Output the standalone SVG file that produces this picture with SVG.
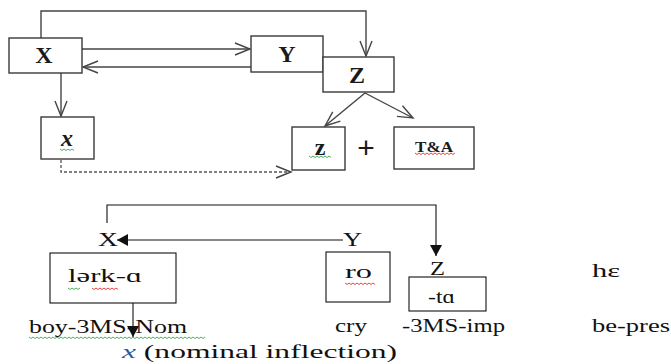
<svg xmlns="http://www.w3.org/2000/svg" width="671" height="364" viewBox="0 0 671 364">
<style>
.box{fill:#fff;stroke:#3a3a3a;stroke-width:1.4}
.bbox{fill:#fff;stroke:#111;stroke-width:1.1}
.ln{fill:none;stroke:#444;stroke-width:1.4}
.bl{fill:none;stroke:#111;stroke-width:1.1}
.dash{fill:none;stroke:#555;stroke-width:1.3;stroke-dasharray:3 2}
.tb{font-family:"Liberation Serif",serif;font-weight:bold;fill:#1a1a1a;text-anchor:middle}
.ts{font-family:"Liberation Serif",serif;font-size:18px;fill:#111}
.sqg{fill:none;stroke:#3aa84a;stroke-width:0.9}
.sqr{fill:none;stroke:#e03030;stroke-width:0.9}
</style>
<defs>
<marker id="open" markerUnits="userSpaceOnUse" markerWidth="18" markerHeight="14" viewBox="0 0 18 14" refX="16" refY="7" orient="auto">
<path d="M1,1 L16,7 L1,13" fill="none" stroke="#444" stroke-width="1.4"/>
</marker>
<marker id="fill" markerUnits="userSpaceOnUse" markerWidth="12" markerHeight="12" viewBox="0 0 12 12" refX="11" refY="6" orient="auto">
<path d="M0,0 L11,6 L0,12 Z" fill="#111"/>
</marker>
</defs>

<g id="connectors">
<path class="ln" d="M41,38 V11 H366 V56" marker-end="url(#open)"/>
<path class="ln" d="M82,49 H250" marker-end="url(#open)"/>
<path class="ln" d="M251,67 H83" marker-end="url(#open)"/>
<path class="ln" d="M61,73 V116" marker-end="url(#open)"/>
<path class="ln" d="M365,93 L325,126" marker-end="url(#open)"/>
<path class="ln" d="M365,93 L413,118" marker-end="url(#open)"/>
<path class="dash" d="M61,160 V172 H291" marker-end="url(#open)"/>
<path class="bl" d="M107,223 V205 H436 V256" marker-end="url(#fill)"/>
<path class="bl" d="M343,240 H117" marker-end="url(#fill)"/>
<path class="bl" d="M133,303 V337" marker-end="url(#fill)"/>
</g>

<g id="node-X"><rect class="box" x="9" y="38" width="73" height="35"/><text class="tb" x="44" y="63" font-size="24">X</text></g>
<g id="node-Y"><rect class="box" x="251" y="36" width="72" height="36"/><text class="tb" x="287" y="62" font-size="24">Y</text></g>
<g id="node-Z"><rect class="box" x="323" y="57" width="71" height="35"/><text class="tb" x="357" y="83" font-size="24">Z</text></g>
<g id="node-x"><rect class="box" x="41" y="117" width="53" height="42"/><text class="tb" x="67" y="146" font-size="24" font-style="italic">x</text>
<path class="sqg" d="M60,149 l2,1.5 l2,-1.5 l2,1.5 l2,-1.5 l2,1.5 l2,-1.5 l2,1.5"/></g>
<g id="node-z"><rect class="box" x="292" y="127" width="53" height="43"/><text class="tb" x="320" y="155" font-size="24">z</text>
<path class="sqg" d="M309,156 l2,1.5 l2,-1.5 l2,1.5 l2,-1.5 l2,1.5 l2,-1.5 l2,1.5 l2,-1.5 l2,1.5 l2,-1.5 l2,1.5"/></g>
<g id="plus"><text x="366" y="158" font-family="Liberation Sans,sans-serif" font-size="30" fill="#1a1a1a" text-anchor="middle">+</text></g>
<g id="node-TA"><rect class="box" x="394" y="127" width="80" height="42"/><text class="tb" x="434" y="152" font-size="14" textLength="38" lengthAdjust="spacingAndGlyphs">T&amp;A</text>
<path class="sqr" d="M415,153 l2,1.5 l2,-1.5 l2,1.5 l2,-1.5 l2,1.5 l2,-1.5 l2,1.5 l2,-1.5 l2,1.5 l2,-1.5 l2,1.5 l2,-1.5 l2,1.5 l2,-1.5 l2,1.5 l2,-1.5 l2,1.5 l2,-1.5 l2,1.5 l2,-1.5"/></g>

<g id="label-X2"><text class="ts" x="98" y="246" textLength="20" lengthAdjust="spacingAndGlyphs">X</text></g>
<g id="label-Y2"><text class="ts" x="343" y="246" textLength="19" lengthAdjust="spacingAndGlyphs">Y</text></g>
<g id="label-Z2"><text class="ts" x="430" y="275" textLength="15" lengthAdjust="spacingAndGlyphs">Z</text></g>
<g id="node-lerk"><rect class="bbox" x="50" y="253" width="126" height="50"/><text class="ts" x="68" y="282" textLength="74" lengthAdjust="spacingAndGlyphs">lərk-ɑ</text>
<path class="sqg" d="M68,288 l2,1.5 l2,-1.5 l2,1.5 l2,-1.5 l2,1.5 l2,-1.5"/>
<path class="sqr" d="M92,288 l2,1.5 l2,-1.5 l2,1.5 l2,-1.5 l2,1.5 l2,-1.5 l2,1.5 l2,-1.5 l2,1.5 l2,-1.5 l2,1.5 l2,-1.5 l2,1.5"/></g>
<g id="node-ro"><rect class="bbox" x="326" y="252" width="64" height="50"/><text class="ts" x="345" y="278" textLength="27" lengthAdjust="spacingAndGlyphs">ro</text>
<path class="sqr" d="M345,283 l2,1.5 l2,-1.5 l2,1.5 l2,-1.5 l2,1.5 l2,-1.5 l2,1.5 l2,-1.5 l2,1.5 l2,-1.5 l2,1.5 l2,-1.5 l2,1.5 l2,-1.5 l2,1.5"/></g>
<g id="node-ta"><rect class="bbox" x="409" y="277" width="77" height="34"/><text class="ts" x="428" y="303" font-size="16" textLength="27" lengthAdjust="spacingAndGlyphs">-tɑ</text></g>
<g id="label-he"><text class="ts" x="592" y="277" textLength="28" lengthAdjust="spacingAndGlyphs">hε</text></g>

<g id="glosses">
<text class="ts" x="29" y="333" textLength="158" lengthAdjust="spacingAndGlyphs">boy-3MS-Nom</text>
<path class="sqg" d="M29,337 l2,1.5 l2,-1.5 l2,1.5 l2,-1.5 l2,1.5 l2,-1.5 l2,1.5 l2,-1.5 l2,1.5 l2,-1.5 l2,1.5 l2,-1.5 l2,1.5 l2,-1.5 l2,1.5 l2,-1.5 l2,1.5 l2,-1.5 l2,1.5 l2,-1.5 l2,1.5 l2,-1.5 l2,1.5 l2,-1.5 l2,1.5 l2,-1.5 l2,1.5 l2,-1.5 l2,1.5 l2,-1.5 l2,1.5 l2,-1.5 l2,1.5 l2,-1.5 l2,1.5 l2,-1.5 l2,1.5 l2,-1.5 l2,1.5 l2,-1.5 l2,1.5 l2,-1.5 l2,1.5 l2,-1.5 l2,1.5 l2,-1.5 l2,1.5 l2,-1.5 l2,1.5 l2,-1.5 l2,1.5 l2,-1.5 l2,1.5 l2,-1.5 l2,1.5 l2,-1.5 l2,1.5 l2,-1.5 l2,1.5 l2,-1.5 l2,1.5 l2,-1.5 l2,1.5 l2,-1.5 l2,1.5 l2,-1.5 l2,1.5 l2,-1.5 l2,1.5 l2,-1.5 l2,1.5 l2,-1.5 l2,1.5 l2,-1.5 l2,1.5 l2,-1.5 l2,1.5 l2,-1.5 l2,1.5 l2,-1.5 l2,1.5 l2,-1.5 l2,1.5 l2,-1.5 l2,1.5 l2,-1.5 l2,1.5 l2,-1.5"/>
<text class="ts" x="335" y="332" textLength="32" lengthAdjust="spacingAndGlyphs">cry</text>
<text class="ts" x="402" y="332" textLength="103" lengthAdjust="spacingAndGlyphs">-3MS-imp</text>
<text class="ts" x="592" y="332" textLength="78" lengthAdjust="spacingAndGlyphs">be-pres</text>
<text class="ts" x="122" y="358" font-size="21" textLength="275" lengthAdjust="spacingAndGlyphs"><tspan font-style="italic" fill="#2a5aa0">x</tspan> (nominal inflection)</text>
</g>
</svg>
